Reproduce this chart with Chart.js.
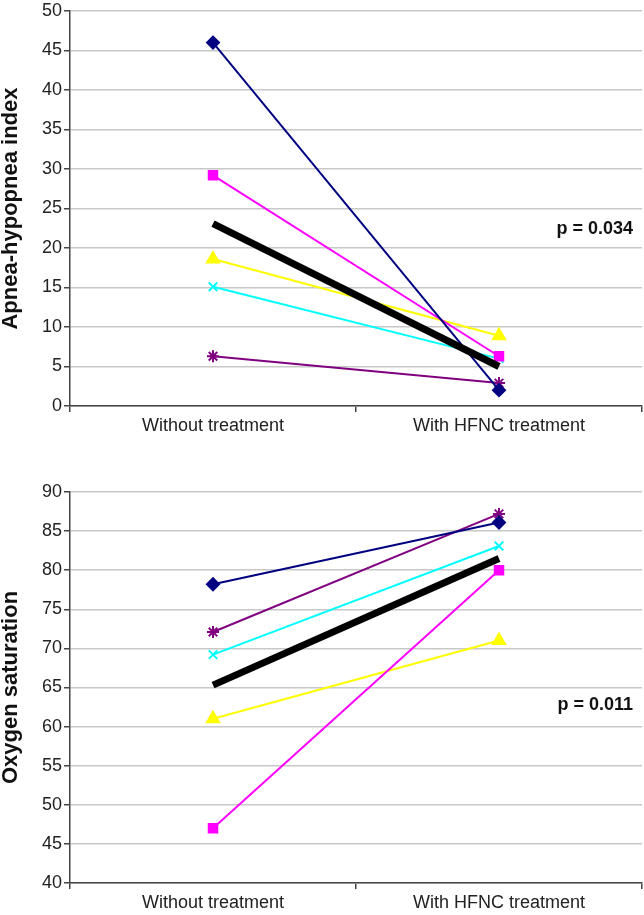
<!DOCTYPE html>
<html>
<head>
<meta charset="utf-8">
<script src="https://cdn.jsdelivr.net/npm/chart.js@4.4.1/dist/chart.umd.min.js"></script>
<style>
  body { margin: 0; background: #ffffff; overflow: hidden; }
  #wrap { position: relative; width: 644px; height: 915px; }
  canvas { position: absolute; left: 0; }
</style>
</head>
<body>
<div id="wrap">
  <canvas id="ahi-chart" width="644" height="440" style="top:0px"></canvas>
  <canvas id="spo2-chart" width="644" height="475" style="top:440px"></canvas>
</div>
<script>
// categories (x axis)
const categories = ['Without treatment', 'With HFNC treatment'];

// apnea-hypopnea index, per patient + mean
const ahiPatient1 = [46, 2];
const ahiPatient2 = [29.2, 6.3];
const ahiPatient3 = [18.6, 8.9];
const ahiPatient4 = [15.1, 6.0];
const ahiPatient5 = [6.3, 2.9];
const ahiMean = [23.1, 5.0];

// oxygen saturation, per patient + mean
const spo2Patient1 = [78.2, 86.1];
const spo2Patient2 = [47, 80];
const spo2Patient3 = [61, 71];
const spo2Patient4 = [69.2, 83.1];
const spo2Patient5 = [72.1, 87.2];
const spo2Mean = [65.3, 81.5];

const ahiTicks = { min: 0, max: 50, step: 5 };
const spo2Ticks = { min: 40, max: 90, step: 5 };

Chart.defaults.font.family = '"Liberation Sans", Arial, sans-serif';

// line colours / markers like the old excel chart
const seriesStyles = [
  { color: '#000080', pointStyle: 'rectRot', radius: 6 },
  { color: '#ff00ff', pointStyle: 'rect', radius: 6 },
  { color: '#ffff00', pointStyle: 'triangle', radius: 7 },
  { color: '#00ffff', pointStyle: 'crossRot', radius: 6 },
  { color: '#800080', pointStyle: 'star', radius: 6 },
];

function makeDatasets(patients, mean) {
  const sets = patients.map((values, i) => {
    const s = seriesStyles[i];
    return {
      label: 'Patient ' + (i + 1),
      data: values,
      borderColor: s.color,
      backgroundColor: s.color,
      borderWidth: 2,
      pointStyle: s.pointStyle,
      pointRadius: s.radius,
      pointBorderWidth: 2,
      pointBorderColor: s.color,
      pointBackgroundColor: s.color,
    };
  });
  sets.unshift({
    label: 'Mean',
    data: mean,
    borderColor: '#000000',
    backgroundColor: '#000000',
    borderWidth: 7,
    pointRadius: 0,
  });
  return sets;
}

// p value text on the right side of the plot
const pValueLabel = {
  id: 'pValueLabel',
  afterDraw(chart, args, opts) {
    const { ctx, chartArea, scales } = chart;
    ctx.save();
    ctx.font = 'bold 18px "Liberation Sans", Arial, sans-serif';
    ctx.fillStyle = '#111111';
    ctx.textAlign = 'right';
    ctx.textBaseline = 'middle';
    ctx.fillText(opts.text, chartArea.right - 9, scales.y.getPixelForValue(opts.yValue));
    ctx.restore();
  }
};

function makeChart(canvasId, datasets, yTitle, range, pText, pY, padTop, xHeight) {
  const ctx = document.getElementById(canvasId).getContext('2d');
  return new Chart(ctx, {
    type: 'line',
    data: { labels: categories, datasets: datasets },
    plugins: [pValueLabel],
    options: {
      responsive: false,
      animation: false,
      layout: { autoPadding: false, padding: { top: padTop, right: 2, left: 0, bottom: 0 } },
      plugins: {
        legend: { display: false },
        tooltip: { enabled: false },
        pValueLabel: { text: pText, yValue: pY },
      },
      scales: {
        x: {
          offset: true,
          grid: { offset: true, drawOnChartArea: false, tickColor: '#444444', tickLength: 6, lineWidth: 1.5 },
          border: { color: '#444444', width: 1.5 },
          ticks: { color: '#222222', font: { size: 18 }, padding: 3, maxRotation: 0 },
          afterFit: (scale) => { scale.height = xHeight; },
        },
        y: {
          min: range.min,
          max: range.max,
          ticks: { stepSize: range.step, color: '#222222', font: { size: 18, lineHeight: 1 }, padding: 2 },
          grid: { color: '#c8c8c8', lineWidth: 1.5, tickColor: '#444444', tickLength: 6 },
          border: { color: '#444444', width: 1.5 },
          title: {
            display: true,
            text: yTitle,
            color: '#111111',
            font: { size: 22, weight: 'bold', lineHeight: 1 },
            padding: 0,
          },
          afterFit: (scale) => { scale.width = 70; },
        },
      },
    },
  });
}

makeChart('ahi-chart',
  makeDatasets([ahiPatient1, ahiPatient2, ahiPatient3, ahiPatient4, ahiPatient5], ahiMean),
  'Apnea-hypopnea index', ahiTicks, 'p = 0.034', 22.4, 9, 34);

makeChart('spo2-chart',
  makeDatasets([spo2Patient1, spo2Patient2, spo2Patient3, spo2Patient4, spo2Patient5], spo2Mean),
  'Oxygen saturation', spo2Ticks, 'p = 0.011', 62.7, 52, 32);
</script>
</body>
</html>
